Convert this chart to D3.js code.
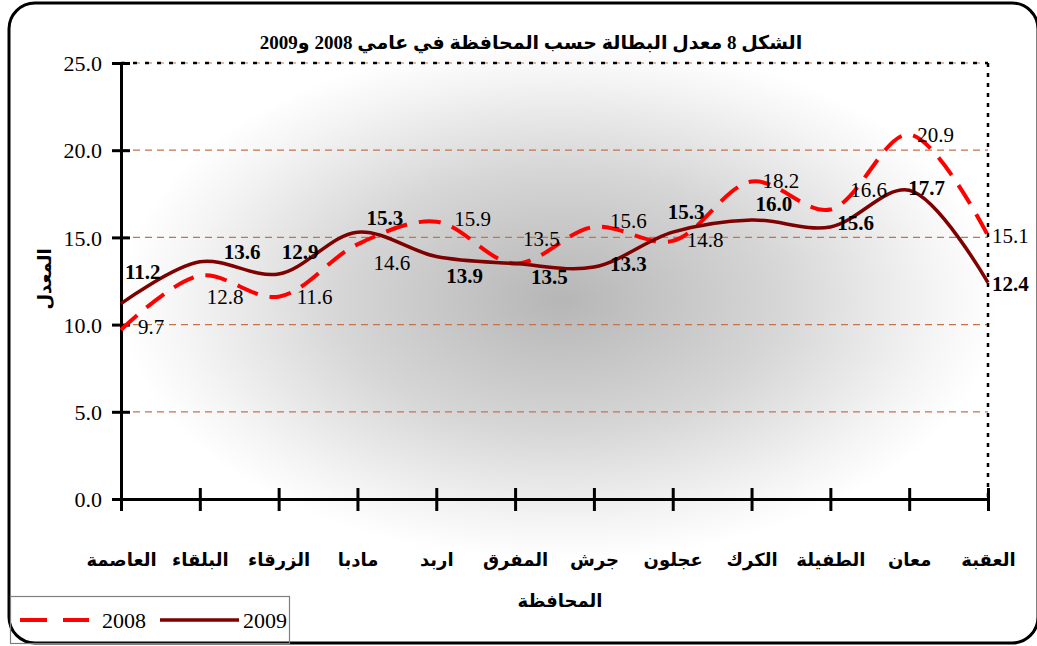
<!DOCTYPE html>
<html><head><meta charset="utf-8">
<script src="https://cdn.jsdelivr.net/npm/d3@7"></script>
<style>body{margin:0;background:#fff}</style>
</head><body><svg id="c" width="1037" height="646"></svg>
<script>
const categories = ["العاصمة","البلقاء","الزرقاء","مادبا","اربد","المفرق","جرش","عجلون","الكرك","الطفيلة","معان","العقبة"];
const values2008 = [9.7,12.8,11.6,14.6,15.9,13.5,15.6,14.8,18.2,16.6,20.9,15.1];
const values2009 = [11.2,13.6,12.9,15.3,13.9,13.5,13.3,15.3,16.0,15.6,17.7,12.4];
const yTicks = [0,5,10,15,20,25];
const seriesNames = ["2008","2009"];
const titleText = "الشكل 8 معدل البطالة  حسب المحافظة في عامي 2008 و2009";
const yTitle = "المعدل";
const xTitle = "المحافظة";
// label layout (offsets from each point, pixels)
const labelOff2008 = [[17,-3],[7,21],[18,0],[16,18],[18,-3],[8,-25],[16,-6],[14,-1],[11,-1],[20,-20],[8,0],[4,0]];
const labelOff2009 = [[4,-32],[24,-10],[3,-22],[9,-15],[10,19],[16,13],[16,-3],[-5,-21],[4,-16],[7,-4],[-1,-3],[4,1]];

const svg = d3.select("#c");
const serif = "'Liberation Serif','Times New Roman',serif";
const arab = "'Liberation Serif','DejaVu Sans',serif";

const defs = svg.append("defs");
const grad = defs.append("radialGradient").attr("id","bg")
  .attr("gradientUnits","userSpaceOnUse").attr("cx",0).attr("cy",0).attr("r",1)
  .attr("gradientTransform","translate(560,300) scale(440,260)");
grad.append("stop").attr("offset","0").attr("stop-color","#b6b6b6");
grad.append("stop").attr("offset","0.5").attr("stop-color","#d6d6d6");
grad.append("stop").attr("offset","0.85").attr("stop-color","#f4f4f4");
grad.append("stop").attr("offset","1").attr("stop-color","#ffffff");

// frame
svg.append("rect").attr("x",9).attr("y",3).attr("width",1029).attr("height",640)
  .attr("rx",26).attr("ry",26).attr("fill","url(#bg)").attr("stroke","#000").attr("stroke-width",3);

const x = d3.scalePoint().domain(categories).range([121,988]).padding(0);
const y = d3.scaleLinear().domain([0,25]).range([499,63]);

// gridlines
svg.append("g").selectAll("line").data(yTicks.filter(d=>d>0)).join("line")
  .attr("x1",121).attr("x2",988).attr("y1",d=>y(d)).attr("y2",d=>y(d))
  .attr("stroke","#c4744a").attr("stroke-width",1.2).attr("stroke-dasharray","7,5");

// plot border top/right (dotted)
svg.append("line").attr("x1",121).attr("x2",988).attr("y1",y(25)).attr("y2",y(25))
  .attr("stroke","#000").attr("stroke-width",2.5).attr("stroke-dasharray","4,8");
svg.append("line").attr("x1",988).attr("x2",988).attr("y1",y(25)).attr("y2",y(0))
  .attr("stroke","#000").attr("stroke-width",2.5).attr("stroke-dasharray","4,6");

// y axis
const ya = svg.append("g").attr("transform","translate(121,0)")
  .call(d3.axisLeft(y).tickValues(yTicks).tickFormat(d3.format(".1f")).tickSizeInner(9).tickSizeOuter(0).tickPadding(10));
ya.select(".domain").attr("stroke","#000").attr("stroke-width",3);
ya.selectAll(".tick line").attr("x1",9).attr("stroke","#000").attr("stroke-width",3);
ya.selectAll(".tick text").attr("font-family",serif).attr("font-size",22).attr("fill","#000").attr("dy","0.35em");

// x axis
const xa = svg.append("g").attr("transform","translate(0,499)")
  .call(d3.axisBottom(x).tickSizeInner(12).tickSizeOuter(0).tickPadding(0));
xa.select(".domain").attr("stroke","#000").attr("stroke-width",3);
xa.selectAll(".tick line").attr("y1",-11).attr("stroke","#000").attr("stroke-width",3);
xa.selectAll(".tick text").attr("font-family",arab).attr("font-size",18).attr("font-weight","bold")
  .attr("fill","#000").attr("y",61).attr("dy","0.35em").attr("direction","rtl");

// lines
const line = d3.line().x((d,i)=>x(categories[i])).y(d=>y(d)).curve(d3.curveCatmullRom.alpha(0.5));
svg.append("path").datum(values2008).attr("d",line).attr("fill","none")
  .attr("stroke","#ff0000").attr("stroke-width",4).attr("stroke-dasharray","22,12");
svg.append("path").datum(values2009).attr("d",line).attr("fill","none")
  .attr("stroke","#7f0000").attr("stroke-width",3.5);

// data labels
svg.append("g").selectAll("text").data(values2008).join("text")
  .attr("x",(d,i)=>x(categories[i])+labelOff2008[i][0])
  .attr("y",(d,i)=>y(d)+labelOff2008[i][1]).attr("dy","0.35em")
  .attr("font-family",serif).attr("font-size",21).attr("fill","#000")
  .text(d=>d3.format(".1f")(d));
svg.append("g").selectAll("text").data(values2009).join("text")
  .attr("x",(d,i)=>x(categories[i])+labelOff2009[i][0])
  .attr("y",(d,i)=>y(d)+labelOff2009[i][1]).attr("dy","0.35em")
  .attr("font-family",serif).attr("font-size",21).attr("font-weight","bold").attr("fill","#000")
  .text(d=>d3.format(".1f")(d));

// titles
svg.append("text").attr("x",531).attr("y",42).attr("dy","0.35em").attr("text-anchor","middle")
  .attr("direction","rtl").attr("font-family",arab).attr("font-size",19).attr("font-weight","bold")
  .text(titleText);
svg.append("text").attr("x",560).attr("y",601).attr("dy","0.35em").attr("text-anchor","middle")
  .attr("direction","rtl").attr("font-family",arab).attr("font-size",18).attr("font-weight","bold")
  .text(xTitle);
svg.append("text").attr("transform","translate(45,279) rotate(-90)").attr("dy","0.35em")
  .attr("text-anchor","middle").attr("direction","rtl").attr("font-family",arab)
  .attr("font-size",18).attr("font-weight","bold").text(yTitle);

// legend
const lg = svg.append("g");
lg.append("rect").attr("x",10.5).attr("y",596.5).attr("width",279).attr("height",47)
  .attr("fill","none").attr("stroke","#7f7f7f").attr("stroke-width",1.2);
lg.append("line").attr("x1",20).attr("x2",89).attr("y1",620).attr("y2",620)
  .attr("stroke","#ff0000").attr("stroke-width",4).attr("stroke-dasharray","27,16");
lg.append("text").attr("x",102).attr("y",620).attr("dy","0.35em").attr("font-family",serif)
  .attr("font-size",22).text(seriesNames[0]);
lg.append("line").attr("x1",160).attr("x2",239).attr("y1",620).attr("y2",620)
  .attr("stroke","#7f0000").attr("stroke-width",3.5);
lg.append("text").attr("x",243).attr("y",620).attr("dy","0.35em").attr("font-family",serif)
  .attr("font-size",22).text(seriesNames[1]);
</script></body></html>
